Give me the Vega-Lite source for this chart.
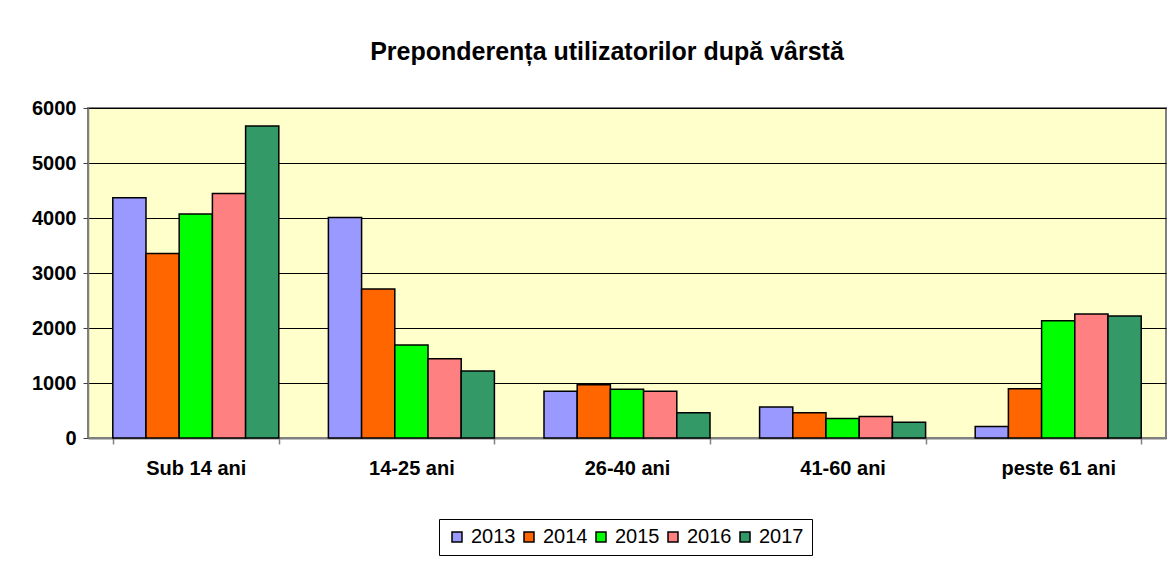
{
  "$schema": "https://vega.github.io/schema/vega-lite/v6.json",
  "width": 1078,
  "height": 330,
  "autosize": {"type": "none"},
  "padding": {"left": 88, "top": 108, "right": 7, "bottom": 126},
  "background": "white",
  "title": {
    "text": "Preponderența utilizatorilor după vârstă",
    "font": "Liberation Sans",
    "fontSize": 25,
    "fontWeight": "bold",
    "color": "black",
    "anchor": "middle",
    "dx": -20,
    "offset": 33
  },
  "config": {
    "view": {"fill": "#FFFFCC", "stroke": "#808080", "strokeWidth": 2}
  },
  "data": {
    "values": [
      {"grupa": "Sub 14 ani", "an": "2013", "valoare": 4366},
      {"grupa": "Sub 14 ani", "an": "2014", "valoare": 3354},
      {"grupa": "Sub 14 ani", "an": "2015", "valoare": 4075},
      {"grupa": "Sub 14 ani", "an": "2016", "valoare": 4444},
      {"grupa": "Sub 14 ani", "an": "2017", "valoare": 5674},
      {"grupa": "14-25 ani", "an": "2013", "valoare": 4008},
      {"grupa": "14-25 ani", "an": "2014", "valoare": 2707},
      {"grupa": "14-25 ani", "an": "2015", "valoare": 1689},
      {"grupa": "14-25 ani", "an": "2016", "valoare": 1441},
      {"grupa": "14-25 ani", "an": "2017", "valoare": 1217},
      {"grupa": "26-40 ani", "an": "2013", "valoare": 850},
      {"grupa": "26-40 ani", "an": "2014", "valoare": 966},
      {"grupa": "26-40 ani", "an": "2015", "valoare": 885},
      {"grupa": "26-40 ani", "an": "2016", "valoare": 848},
      {"grupa": "26-40 ani", "an": "2017", "valoare": 461},
      {"grupa": "41-60 ani", "an": "2013", "valoare": 563},
      {"grupa": "41-60 ani", "an": "2014", "valoare": 461},
      {"grupa": "41-60 ani", "an": "2015", "valoare": 353},
      {"grupa": "41-60 ani", "an": "2016", "valoare": 389},
      {"grupa": "41-60 ani", "an": "2017", "valoare": 288},
      {"grupa": "peste 61 ani", "an": "2013", "valoare": 207},
      {"grupa": "peste 61 ani", "an": "2014", "valoare": 896},
      {"grupa": "peste 61 ani", "an": "2015", "valoare": 2134},
      {"grupa": "peste 61 ani", "an": "2016", "valoare": 2256},
      {"grupa": "peste 61 ani", "an": "2017", "valoare": 2220}
    ]
  },
  "mark": {"type": "bar", "stroke": "black", "strokeWidth": 1.5},
  "encoding": {
    "x": {
      "field": "grupa",
      "type": "nominal",
      "sort": ["Sub 14 ani", "14-25 ani", "26-40 ani", "41-60 ani", "peste 61 ani"],
      "scale": {"paddingInner": 0.23, "paddingOuter": 0.115},
      "axis": {
        "title": null,
        "labelAngle": 0,
        "labelFont": "Liberation Sans",
        "labelFontSize": 20,
        "labelFontWeight": "bold",
        "labelColor": "black",
        "labelPadding": 14,
        "domainColor": "#808080",
        "domainWidth": 2,
        "tickColor": "#808080",
        "tickWidth": 1.5,
        "tickSize": 6,
        "tickBand": "extent"
      }
    },
    "xOffset": {
      "field": "an",
      "type": "nominal",
      "sort": ["2013", "2014", "2015", "2016", "2017"],
      "scale": {"paddingInner": 0, "paddingOuter": 0}
    },
    "y": {
      "field": "valoare",
      "type": "quantitative",
      "scale": {"domain": [0, 6000], "nice": false},
      "axis": {
        "title": null,
        "values": [0, 1000, 2000, 3000, 4000, 5000, 6000],
        "format": "d",
        "grid": true,
        "gridColor": "black",
        "gridWidth": 1,
        "labelFont": "Liberation Sans",
        "labelFontSize": 20,
        "labelFontWeight": "bold",
        "labelColor": "black",
        "labelPadding": 7,
        "domainColor": "#808080",
        "domainWidth": 1.5,
        "tickColor": "#404040",
        "tickSize": 5
      }
    },
    "color": {
      "field": "an",
      "type": "nominal",
      "sort": ["2013", "2014", "2015", "2016", "2017"],
      "scale": {
        "domain": ["2013", "2014", "2015", "2016", "2017"],
        "range": ["#9999FF", "#FF6600", "#00FF00", "#FF8080", "#339966"]
      },
      "legend": {
        "title": null,
        "orient": "none",
        "legendX": 351,
        "legendY": 411,
        "direction": "horizontal",
        "strokeColor": "black",
        "fillColor": "white",
        "padding": 8,
        "symbolType": "square",
        "symbolSize": 100,
        "symbolStrokeColor": "black",
        "symbolStrokeWidth": 1.5,
        "symbolOpacity": 1,
        "labelFont": "Liberation Sans",
        "labelFontSize": 20,
        "labelColor": "black",
        "labelOffset": 4,
        "columnPadding": 3
      }
    }
  }
}
